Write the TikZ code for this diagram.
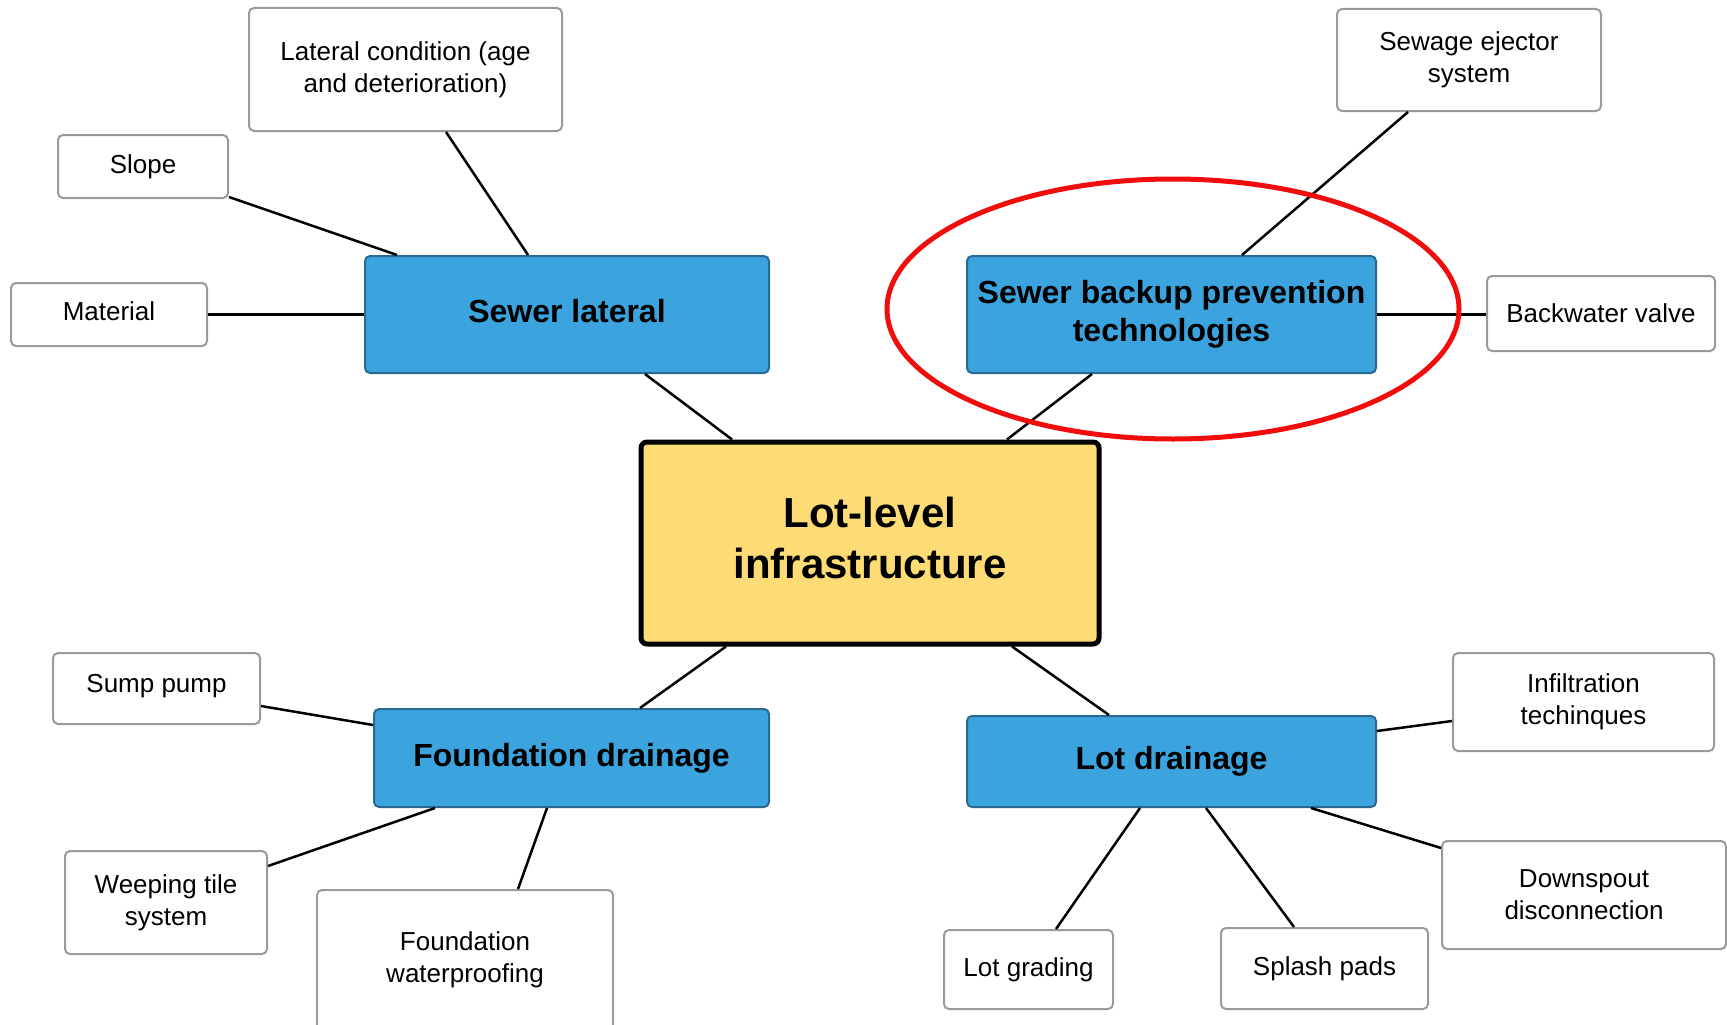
\documentclass[tikz,border=0pt]{standalone}
\usepackage{fontspec}
\setmainfont{Liberation Sans}
\definecolor{catblue}{HTML}{3BA3DD}
\definecolor{catborder}{HTML}{2A6A92}
\definecolor{hubyellow}{HTML}{FEDC75}
\definecolor{leafgray}{HTML}{9A9A9A}
\definecolor{ringred}{HTML}{F20D0D}
\newcommand\liftby[1]{\rule[-#1]{0pt}{#1}}
\begin{document}
\begin{tikzpicture}[x=1pt,y=-1pt,
  leaf/.style={draw=leafgray, line width=2pt, rounded corners=5pt, fill=white,
    align=center, inner sep=0pt, font=\fontsize{26pt}{32pt}\selectfont},
  cat/.style={draw=catborder, line width=2pt, rounded corners=5pt, fill=catblue,
    align=center, inner sep=0pt, font=\bfseries\fontsize{32pt}{38pt}\selectfont},
  hub/.style={draw=black, line width=5pt, rounded corners=6pt, fill=hubyellow,
    align=center, inner sep=0pt, font=\bfseries\fontsize{42pt}{51pt}\selectfont},
  link/.style={draw=black, line width=2.5pt},
  ring/.style={draw=ringred, line width=5pt}]
\useasboundingbox[fill=white] (0,0) rectangle (1727,1025);

% nodes
\node[hub, minimum width=458pt, minimum height=202pt] (hub) at (870,543) {Lot-level\\infrastructure\liftby{11pt}};

\node[cat, minimum width=404pt, minimum height=117pt] (sl) at (567,314.5) {Sewer lateral\liftby{6.6pt}};
\node[cat, minimum width=409pt, minimum height=117pt] (sbp) at (1171.5,314.5) {Sewer backup prevention\\technologies};
\node[cat, minimum width=395pt, minimum height=98pt] (fd) at (571.5,758) {Foundation drainage};
\node[cat, minimum width=409pt, minimum height=91pt] (ld) at (1171.5,761.5) {Lot drainage};

\node[leaf, minimum width=313pt, minimum height=123pt] (lat) at (405.5,69.5) {Lateral condition (age\\and deterioration)};
\node[leaf, minimum width=170pt, minimum height=63pt] (slope) at (143,166.5) {Slope};
\node[leaf, minimum width=196pt, minimum height=63pt] (mat) at (109,314.5) {Material\liftby{6.6pt}};
\node[leaf, minimum width=264pt, minimum height=102pt] (ejec) at (1469,60) {Sewage ejector\\system};
\node[leaf, minimum width=228pt, minimum height=75pt] (valve) at (1601,313.5) {Backwater valve};
\node[leaf, minimum width=207pt, minimum height=71pt] (sump) at (156.5,688.5) {Sump pump\liftby{9.5pt}};
\node[leaf, minimum width=202pt, minimum height=103pt] (weep) at (166,902.5) {Weeping tile\\system};
\node[leaf, minimum width=296pt, minimum height=150pt] (fwp) at (465,965) {Foundation\\waterproofing\liftby{16.5pt}};
\node[leaf, minimum width=261pt, minimum height=98pt] (infil) at (1583.5,702) {Infiltration\\techinques};
\node[leaf, minimum width=284pt, minimum height=108pt] (down) at (1584,895) {Downspout\\disconnection};
\node[leaf, minimum width=169pt, minimum height=79pt] (grade) at (1028.5,969.5) {Lot grading};
\node[leaf, minimum width=207pt, minimum height=81pt] (splash) at (1324.5,968.5) {Splash pads};

% connectors
\draw[link] ([xshift=40.5pt]lat.south) -- ([xshift=-39pt]sl.north);
\draw[link] ([yshift=2pt]slope.south east) -- ([xshift=33pt]sl.north west);
\draw[link] (mat.east) -- (sl.west);
\draw[link] ([xshift=78pt]sl.south) -- ([xshift=-138pt]hub.north);
\draw[link] ([xshift=-61pt]ejec.south) -- ([xshift=70.5pt]sbp.north);
\draw[link] (sbp.east) -- (sbp.east -| valve.west);
\draw[link] ([xshift=-79.5pt]sbp.south) -- ([xshift=137pt]hub.north);
\draw[link] ([xshift=-144pt]hub.south) -- ([xshift=68.5pt]fd.north);
\draw[link] ([yshift=-17.5pt]sump.east) -- ([yshift=33pt]fd.west);
\draw[link] ([yshift=36.5pt]weep.east) -- ([xshift=-136.5pt]fd.south);
\draw[link] ([xshift=53pt]fwp.north) -- ([xshift=-24.5pt]fd.south);
\draw[link] ([xshift=142pt]hub.south) -- ([xshift=-62.5pt]ld.north);
\draw[link] ([yshift=30.5pt]ld.east) -- ([yshift=-19pt]infil.west);
\draw[link] ([xshift=139.5pt]ld.south) -- ([yshift=47pt]down.west);
\draw[link] ([xshift=-31.5pt]ld.south) -- ([xshift=27.5pt]grade.north);
\draw[link] ([xshift=34.5pt]ld.south) -- ([xshift=-30.5pt]splash.north);

% highlight ring
\draw[ring] (sbp.center) ++(1.5pt,5.5pt) ellipse [x radius=286pt, y radius=130pt];
\end{tikzpicture}
\end{document}
